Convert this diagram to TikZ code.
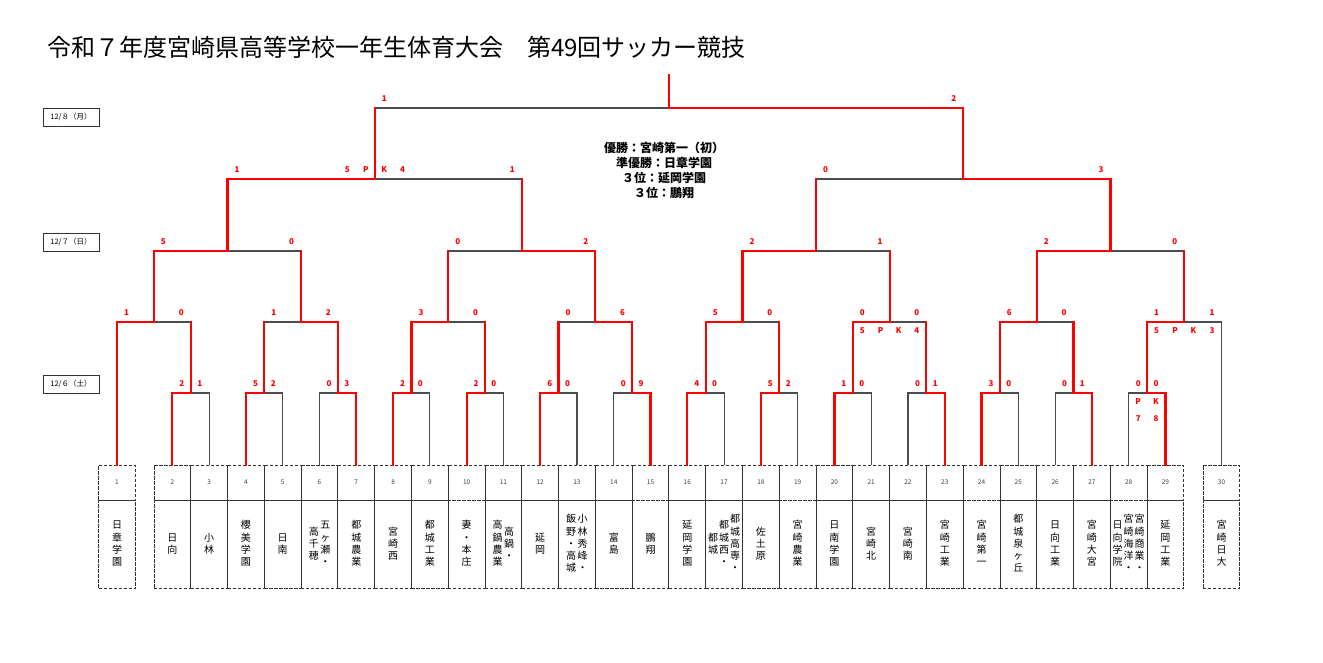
\documentclass[tikz,border=0pt]{standalone}
\usepackage{fontspec}
\setmainfont{Noto Sans CJK JP}
\usepackage{tikz}
\usetikzlibrary{positioning}

\newcommand{\tate}[1]{\begin{tabular}[c]{@{}c@{}}#1\end{tabular}}

\tikzset{
  wire/.style={draw=black!70, line width=1.1pt},
  win/.style={draw=red, line width=2.2pt, line cap=rect},
  numbox/.style={draw=black!80, dash pattern=on 3.2pt off 1.8pt, line width=0.9pt, minimum width=36.78pt, minimum height=35pt, inner sep=0pt, font=\fontsize{6.5}{7}\selectfont, text=black!75},
  namebox/.style={numbox, minimum height=88pt, font=\fontsize{10}{12.3}\selectfont, text=black},
  score/.style={text=red, font=\fontsize{8}{8}\selectfont\bfseries, inner sep=0pt},
  datebox/.style={draw=black!80, line width=1pt, minimum width=56pt, minimum height=18pt, inner sep=0pt, font=\fontsize{7.5}{8}\selectfont},
}

\begin{document}
\begin{tikzpicture}[x=1pt,y=-1pt]
	\useasboundingbox (0,0) rectangle (1323,662);
	
	\node[anchor=west, inner sep=0pt, font=\fontsize{24}{28}\selectfont] (title) at (47,47) {令和７年度宮崎県高等学校一年生体育大会　第49回サッカー競技};
	
	\node[datebox] (day8) at (71,117) {12/８（月）};
	\node[datebox] (day7) at (71,242) {12/７（日）};
	\node[datebox] (day6) at (71,384) {12/６（土）};
	
	\node[align=center, inner sep=0pt, font=\fontsize{12}{15}\selectfont\bfseries] (result) at (664,170) {優勝：宮崎第一（初）\\準優勝：日章学園\\３位：延岡学園\\３位：鵬翔};
	
	% team boxes
	\node[numbox] (t1) at (117,482.5) {1};
	\foreach \i in {2,...,29}
		\node[numbox] (t\i) at ({154+(\i-2)*36.78+18.39},482.5) {\i};
	\node[numbox] (t30) at (1221.5,482.5) {30};
	
	\foreach \i/\nm in {1/{\tate{日\\章\\学\\園}}, 2/{\tate{日\\向}}, 3/{\tate{小\\林}}, 4/{\tate{櫻\\美\\学\\園}}, 5/{\tate{日\\南}},
		6/{\tate{高\\千\\穂}\hspace{1.5pt}\tate{五\\ヶ\\瀬\\・}}, 7/{\tate{都\\城\\農\\業}}, 8/{\tate{宮\\崎\\西}}, 9/{\tate{都\\城\\工\\業}}, 10/{\tate{妻\\・\\本\\庄}},
		11/{\tate{高\\鍋\\農\\業}\hspace{1.5pt}\tate{高\\鍋\\・}}, 12/{\tate{延\\岡}}, 13/{\tate{飯\\野\\・\\高\\城}\hspace{1.5pt}\tate{小\\林\\秀\\峰\\・}}, 14/{\tate{富\\島}}, 15/{\tate{鵬\\翔}},
		16/{\tate{延\\岡\\学\\園}}, 17/{\tate{都\\城}\hspace{1pt}\tate{都\\城\\西\\・}\hspace{1pt}\tate{都\\城\\高\\専\\・}}, 18/{\tate{佐\\土\\原}}, 19/{\tate{宮\\崎\\農\\業}}, 20/{\tate{日\\南\\学\\園}},
		21/{\tate{宮\\崎\\北}}, 22/{\tate{宮\\崎\\南}}, 23/{\tate{宮\\崎\\工\\業}}, 24/{\tate{宮\\崎\\第\\一}}, 25/{\tate{都\\城\\泉\\ヶ\\丘}},
		26/{\tate{日\\向\\工\\業}}, 27/{\tate{宮\\崎\\大\\宮}}, 28/{\tate{日\\向\\学\\院}\hspace{1pt}\tate{宮\\崎\\海\\洋\\・}\hspace{1pt}\tate{宮\\崎\\商\\業\\・}}, 29/{\tate{延\\岡\\工\\業}}, 30/{\tate{宮\\崎\\日\\大}}}
		\node[namebox, below=0pt of t\i] (s\i) {\nm};
	
	% match junctions
	\foreach \k in {1,...,14}
		\coordinate (a\k) at ({154+(2*\k-1)*36.78},393);
	\coordinate (b1) at (153.89,322);
	\coordinate (b2) at (301.12,322);
	\coordinate (b3) at (448.24,322);
	\coordinate (b4) at (595.36,322);
	\coordinate (b5) at (742.48,322);
	\coordinate (b6) at (889.60,322);
	\coordinate (b7) at (1036.72,322);
	\coordinate (b8) at (1184.28,322);
	\coordinate (c1) at (227.51,251);
	\coordinate (c2) at (521.80,251);
	\coordinate (c3) at (816.04,251);
	\coordinate (c4) at (1110.50,251);
	\coordinate (d1) at (374.66,179);
	\coordinate (d2) at (963.27,179);
	\coordinate (f) at (668.96,108);
	\coordinate (top) at (668.96,75);
	
	% bracket
	\foreach \i in {2,...,29} {
		\pgfmathtruncatemacro{\k}{\i/2}
		\draw[wire] (t\i.north) |- (a\k);
	}
	\foreach \ch/\pa in {t1.north/b1, t30.north/b8, a1/b1, a2/b2, a3/b2, a4/b3, a5/b3, a6/b4, a7/b4, a8/b5, a9/b5, a10/b6, a11/b6, a12/b7, a13/b7, a14/b8,
		b1/c1, b2/c1, b3/c2, b4/c2, b5/c3, b6/c3, b7/c4, b8/c4, c1/d1, c2/d1, c3/d2, c4/d2, d1/f, d2/f}
		\draw[wire] (\ch) |- (\pa);
	
	% winners
	\foreach \ch/\pa in {a1/b1, a2/b2, a3/b2, a4/b3, a5/b3, a6/b4, a7/b4, a8/b5, a9/b5, a10/b6, a11/b6, a12/b7, a13/b7, a14/b8,
		b1/c1, b2/c1, b3/c2, b4/c2, b5/c3, b6/c3, b7/c4, b8/c4, c1/d1, c2/d1, c3/d2, c4/d2, d1/f, d2/f}
		\draw[win] (\ch) -- (\ch |- \pa);
	\foreach \ch/\pa in {t2.north/a1, t4.north/a2, t7.north/a3, t8.north/a4, t10.north/a5, t12.north/a6, t15.north/a7,
		t16.north/a8, t18.north/a9, t20.north/a10, t23.north/a11, t24.north/a12, t27.north/a13, t29.north/a14, t1.north/b1,
		a3/b2, a4/b3, a7/b4, a8/b5, a10/b6, a12/b7, a14/b8, b1/c1, b4/c2, b5/c3, b7/c4, c1/d1, c4/d2, d2/f}
		\draw[win] (\ch) |- (\pa);
	\draw[win] (f) -- (top);
	
	% scores
	\foreach \x/\y/\v [count=\k] in {181.9/384/2, 199.7/384/1, 255.5/384/5, 273.2/384/2, 329.0/384/0, 346.8/384/3,
		402.6/384/2, 420.4/384/0, 476.1/384/2, 493.9/384/0, 549.7/384/6, 567.5/384/0, 623.3/384/0, 641.0/384/9,
		696.8/384/4, 714.6/384/0, 770.4/384/5, 788.2/384/2, 843.9/384/1, 861.7/384/0, 917.5/384/0, 935.3/384/1,
		991.1/384/3, 1008.8/384/0, 1064.6/384/0, 1082.4/384/1, 1138.2/384/0, 1156.0/384/0,
		1138.2/402/P, 1156.0/402/K, 1138.2/419/7, 1156.0/419/8,
		126.5/313/1, 181.3/313/0, 273.8/313/1, 328.4/313/2, 421.0/313/3, 475.5/313/0, 568.1/313/0, 622.6/313/6,
		715.2/313/5, 769.8/313/0, 862.3/313/0, 916.9/313/0, 862.3/331/5, 880.5/331/P, 898.7/331/K, 916.9/331/4,
		1009.4/313/6, 1064.0/313/0, 1156.6/313/1, 1212.0/313/1, 1156.6/331/5, 1175.1/331/P, 1193.5/331/K, 1212.0/331/3,
		163.4/242/5, 291.6/242/0, 457.7/242/0, 585.9/242/2, 752.0/242/2, 880.1/242/1, 1046.2/242/2, 1174.8/242/0,
		237.0/170/1, 512.3/170/1, 347.4/170/5, 365.8/170/P, 384.2/170/K, 402.6/170/4, 825.5/170/0, 1101.0/170/3,
		384.2/99/1, 953.8/99/2}
		\node[score] (sc\k) at (\x,\y) {\v};
\end{tikzpicture}
\end{document}
